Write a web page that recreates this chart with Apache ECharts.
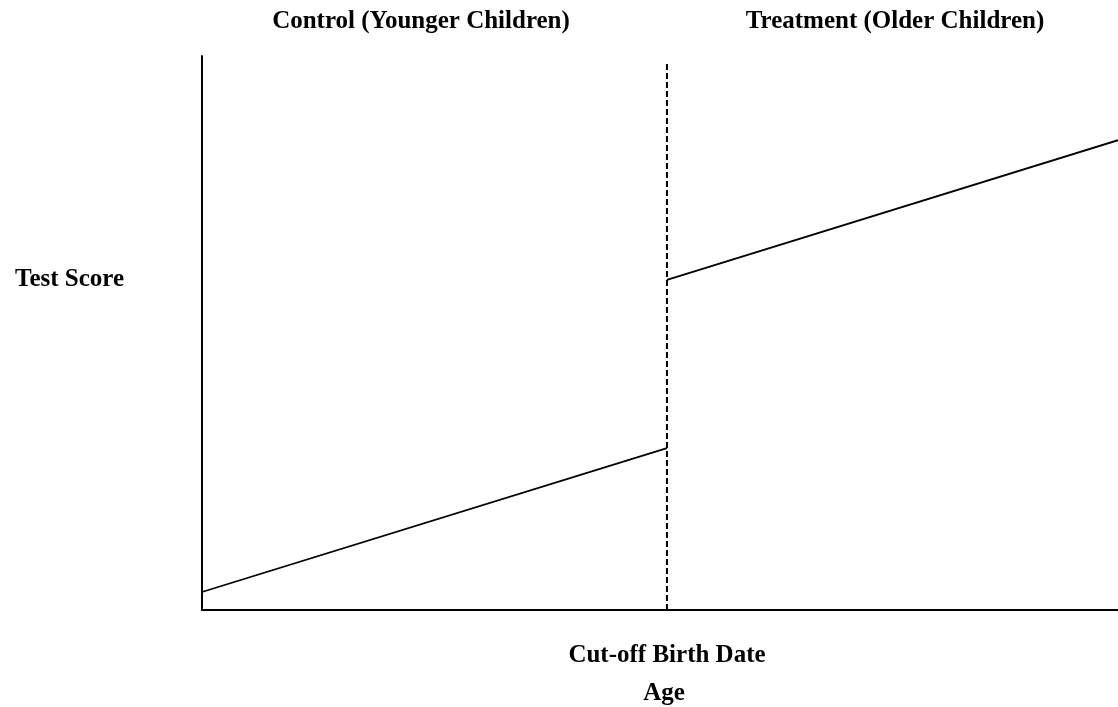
<!DOCTYPE html>
<html>
<head>
<meta charset="utf-8">
<script src="https://cdn.jsdelivr.net/npm/echarts@6/dist/echarts.min.js"></script>
<style>
  html, body { margin: 0; padding: 0; background: #fff; }
  #chart { width: 1118px; height: 707px; }
</style>
</head>
<body>
<div id="chart"></div>
<script>
// normalised age / score
const cutoff = 0.5076;
const controlLine = [[0, 0.0325], [cutoff, 0.292]];
const treatmentLine = [[cutoff, 0.596], [1, 0.848]];
const cutoffLine = [[cutoff, 0], [cutoff, 0.986]];

const groupTitles = ["Control (Younger Children)", "Treatment (Older Children)"];
const yTitle = "Test Score";
const cutoffTitle = "Cut-off Birth Date";
const xTitle = "Age";

const chart = echarts.init(document.getElementById("chart"));
const font = {
  fontFamily: "Liberation Serif",
  fontWeight: "bold",
  fontSize: 25,
  fill: "#000",
};

const label = (text, x, y, align = "center") => ({
  type: "text",
  x,
  y,
  style: { ...font, text, align, verticalAlign: "middle" },
});

let option = {
  animation: false,
  grid: { left: 202, right: 0, top: 56, bottom: 97 },
  xAxis: {
    type: "value",
    min: 0,
    max: 1,
    axisLine: { show: true, onZero: false, lineStyle: { color: "#000", width: 2 } },
    axisTick: { show: false },
    axisLabel: { show: false },
    splitLine: { show: false },
  },
  yAxis: {
    type: "value",
    min: 0,
    max: 1,
    axisLine: { show: true, onZero: false, lineStyle: { color: "#000", width: 2 } },
    axisTick: { show: false },
    axisLabel: { show: false },
    splitLine: { show: false },
  },
  series: [
    {
      name: "Control",
      type: "line",
      data: controlLine,
      symbol: "none",
      lineStyle: { color: "#000", width: 1.8 },
    },
    {
      name: "Treatment",
      type: "line",
      data: treatmentLine,
      symbol: "none",
      lineStyle: { color: "#000", width: 1.8 },
    },
    {
      name: "Cut-off",
      type: "line",
      data: cutoffLine,
      symbol: "none",
      lineStyle: { color: "#000", width: 2, type: [6, 3] },
    },
  ],
  graphic: [
    label(groupTitles[0], 421, 22),
    label(groupTitles[1], 895, 22),
    label(yTitle, 15, 280, "left"),
    label(cutoffTitle, 667, 656),
    label(xTitle, 664, 694),
  ],
};
chart.setOption(option);
</script>
</body>
</html>
